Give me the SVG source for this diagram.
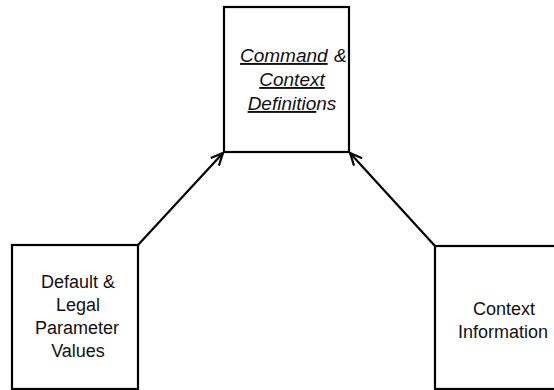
<svg xmlns="http://www.w3.org/2000/svg" width="554" height="390" viewBox="0 0 554 390">
  <style>
    .box { fill: #ffffff; stroke: #000000; stroke-width: 2.2; }
    .lbl { font-family: "Liberation Sans", Arial, sans-serif; font-size: 18px; fill: #111111; text-anchor: middle; }
    .it { font-style: italic; font-size: 19px; }
    .start { text-anchor: start; }
    .conn { stroke: #000000; stroke-width: 2.2; fill: none; marker-end: url(#openArrow); }
  </style>
  <defs>
    <marker id="openArrow" viewBox="0 0 14 14" refX="13" refY="7" markerWidth="14" markerHeight="14" markerUnits="userSpaceOnUse" orient="auto">
      <path d="M1,1.5 L13,7 L1,12.5" fill="none" stroke="#000000" stroke-width="2.2"/>
    </marker>
  </defs>

  <rect width="554" height="390" fill="#ffffff"/>

  <g id="command-context-definitions">
    <rect class="box" x="224" y="7" width="125" height="145"/>
    <text class="lbl it start" x="240" y="62"><tspan text-decoration="underline">Command</tspan></text>
    <text class="lbl it start" x="334" y="62">&amp;</text>
    <text class="lbl it" x="292" y="86" text-decoration="underline">Context</text>
    <text class="lbl it" x="292" y="110"><tspan text-decoration="underline">Definitio</tspan>ns</text>
  </g>

  <g id="default-legal-parameter-values">
    <rect class="box" x="12" y="245" width="126" height="144"/>
    <text class="lbl" x="78" y="288">Default &amp;</text>
    <text class="lbl" x="78" y="311">Legal</text>
    <text class="lbl" x="77" y="334">Parameter</text>
    <text class="lbl" x="78" y="357">Values</text>
  </g>

  <g id="context-information">
    <rect class="box" x="435" y="246" width="130" height="143"/>
    <text class="lbl" x="504" y="315">Context</text>
    <text class="lbl" x="503" y="338">Information</text>
  </g>

  <g id="connectors">
    <line class="conn" x1="138" y1="245" x2="223" y2="153"/>
    <line class="conn" x1="435" y1="246" x2="350" y2="153"/>
  </g>
</svg>
